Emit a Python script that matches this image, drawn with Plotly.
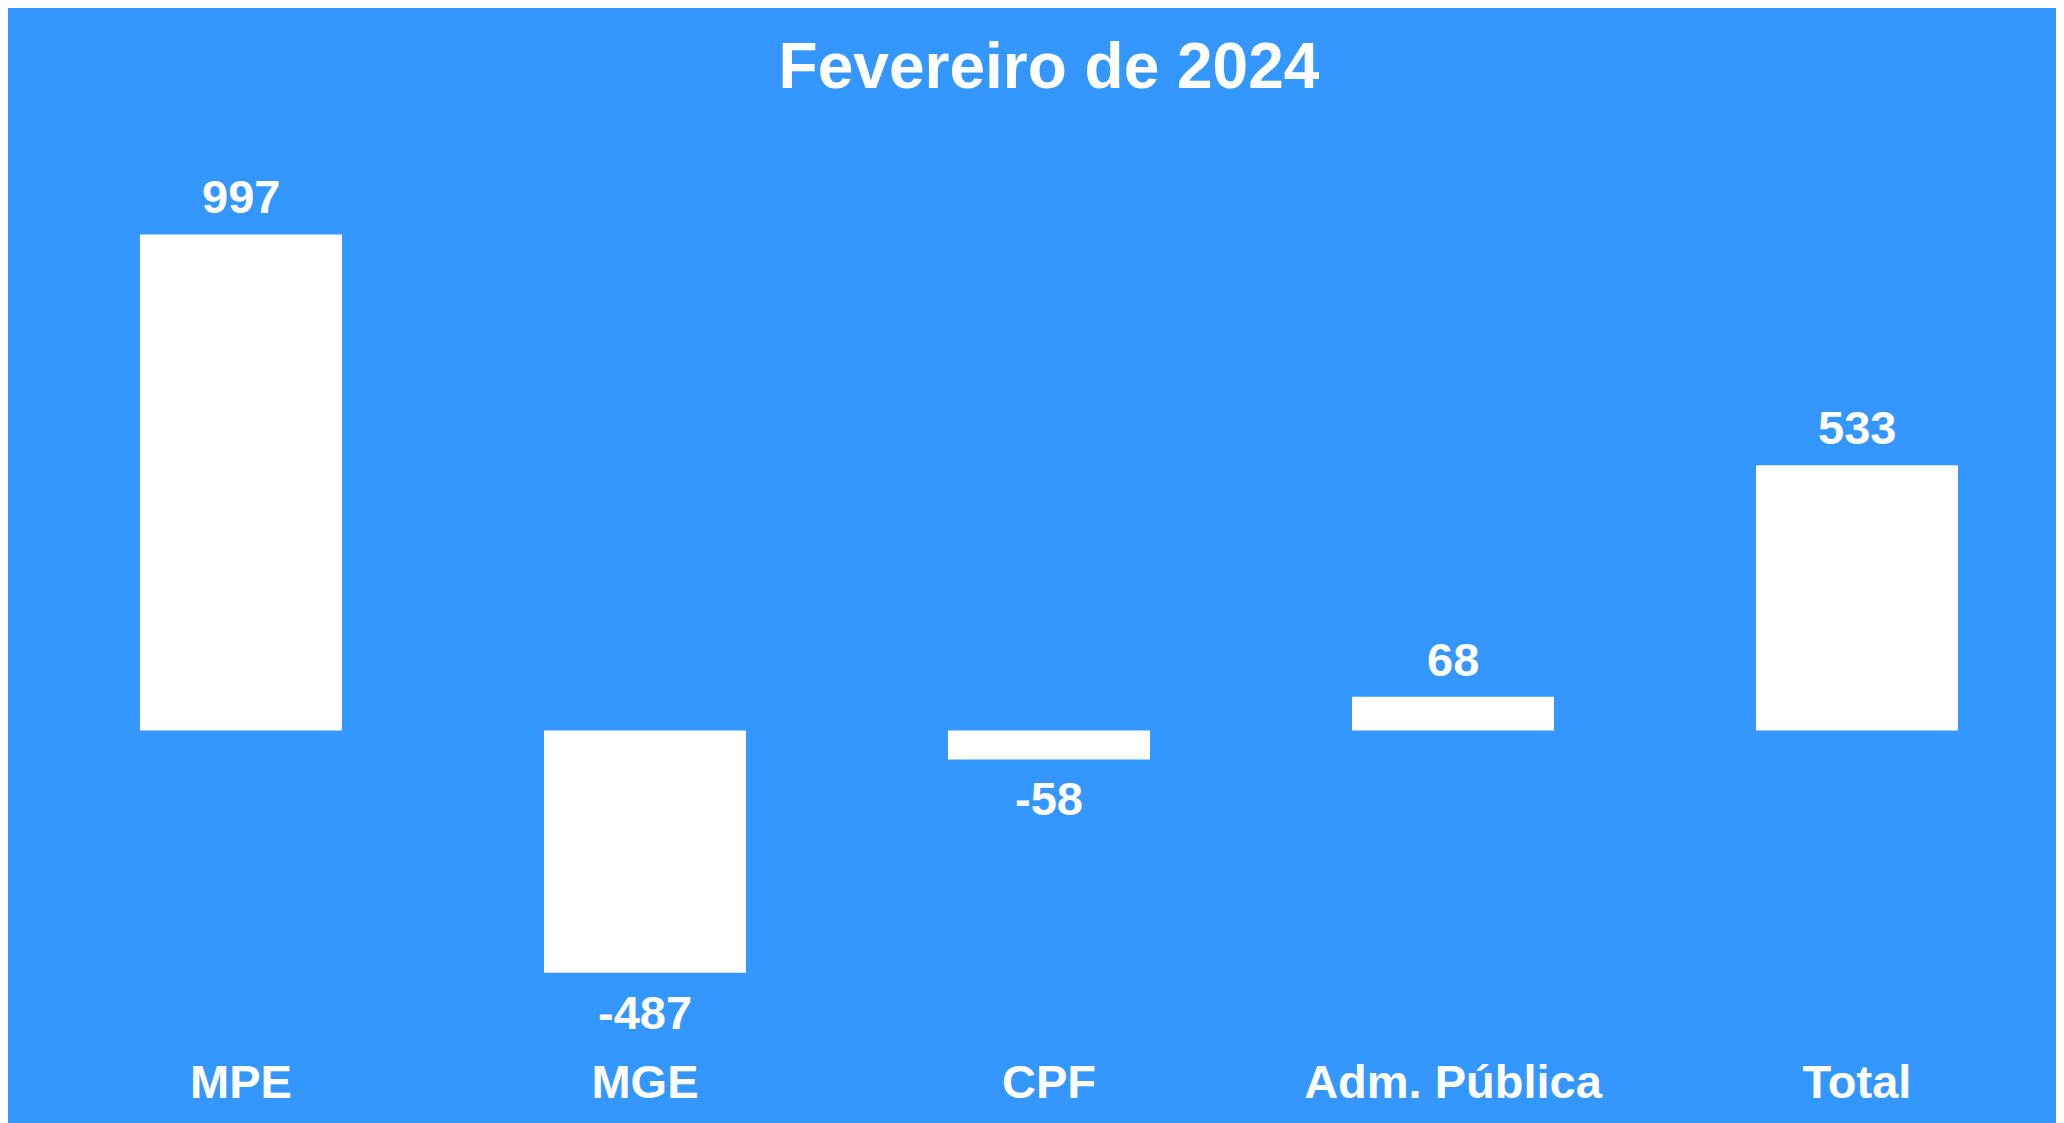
import plotly.graph_objects as go

# dados do gráfico
categorias = ["MPE", "MGE", "CPF", "Adm. Pública", "Total"]
saldos = [997, -487, -58, 68, 533]
titulo = "Fevereiro de 2024"

azul = "#3397FF"
fonte = "Liberation Sans, Arial, sans-serif"

fig = go.Figure()

fig.add_trace(go.Bar(x=categorias, y=saldos, marker=dict(color="white", line=dict(width=0)),
                     hoverinfo="x+y", showlegend=False))

# rótulos de valor acima/abaixo das barras
anotacoes = []
for cat, val in zip(categorias, saldos):
    positivo = val >= 0
    anotacoes.append(dict(x=cat, y=val, text=str(val), showarrow=False,
                          yanchor="bottom" if positivo else "top",
                          yshift=9 if positivo else -11,
                          font=dict(family=fonte, size=47, color="white", weight="bold")))

fig.update_layout(
    width=2086, height=1125,
    paper_bgcolor=azul, plot_bgcolor=azul,
    margin=dict(l=31, r=35, t=112, b=83),
    bargap=0.5,
    title=dict(text=titulo, x=0.5, xref="paper", xanchor="center",
               y=1 - 58 / 1125, yref="container", yanchor="middle",
               font=dict(family=fonte, size=64, color="white", weight="bold")),
    annotations=anotacoes,
    xaxis=dict(showgrid=False, zeroline=False, showline=False, ticks="",
               tickfont=dict(family=fonte, size=47, color="white", weight="bold")),
    yaxis=dict(visible=False, range=[-642, 1227], showgrid=False, zeroline=False),
)

fig.write_html("out.html")
